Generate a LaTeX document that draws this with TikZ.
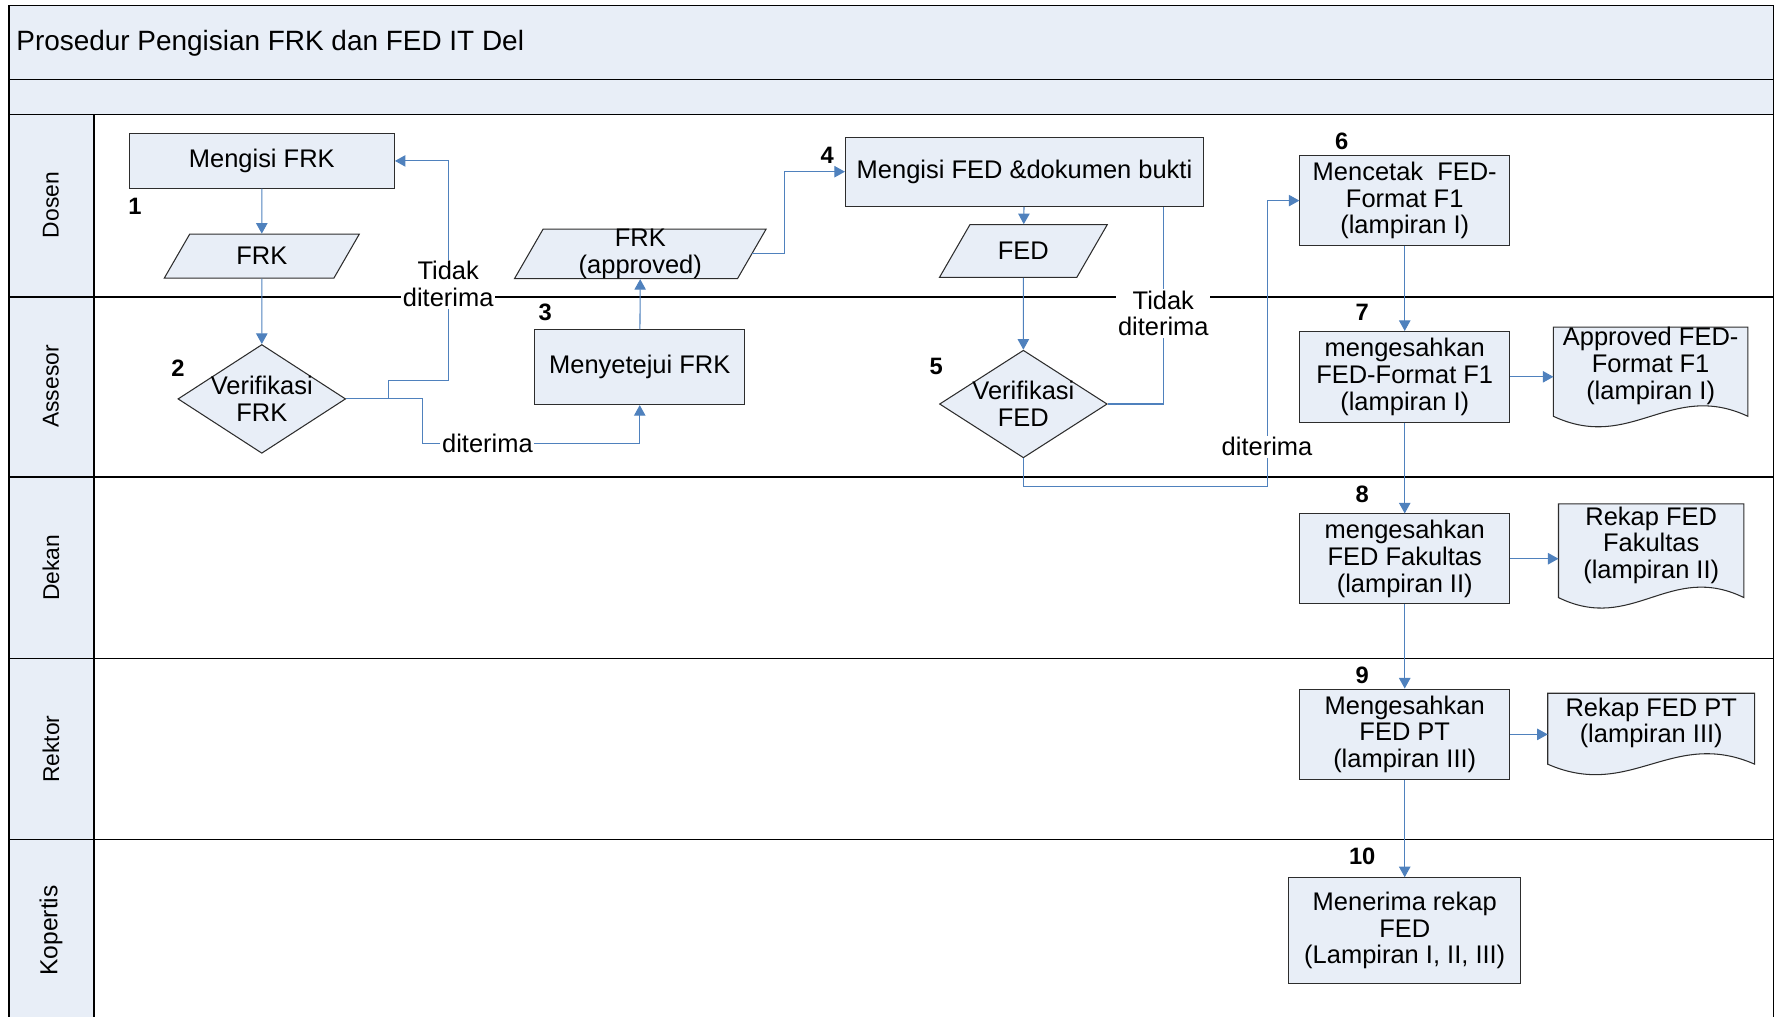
\documentclass[tikz,border=0pt]{standalone}
\usepackage{fontspec}
\setmainfont{Liberation Sans}
\usepackage{tikz}
\usetikzlibrary{shapes.geometric,arrows.meta,calc,backgrounds}

\definecolor{lanefill}{RGB}{232,238,247}
\definecolor{flowblue}{RGB}{79,129,189}
\definecolor{edgegray}{RGB}{45,45,45}
\newcommand{\pxl}{0.022667cm}
\newcommand{\boxfont}{\fontsize{14.5}{15.2}\selectfont}

\begin{document}
\begin{tikzpicture}[x=\pxl, y=-\pxl,
  lane/.style={draw=black, line width=0.8pt},
  band/.style={draw=black, line width=0.8pt, fill=lanefill},
  proc/.style={rectangle, draw=edgegray, line width=0.6pt, fill=lanefill, align=center, font=\boxfont, inner sep=1pt},
  data/.style={trapezium, trapezium left angle=60, trapezium right angle=120, trapezium stretches body, draw=edgegray, line width=0.6pt, fill=lanefill, align=center, font=\boxfont, inner xsep=0pt},
  decision/.style={diamond, draw=edgegray, line width=0.6pt, fill=lanefill, inner sep=0pt},
  dtext/.style={align=center, font=\boxfont, inner sep=0pt},
  docu/.style={rectangle, align=center, font=\boxfont, inner sep=0pt},
  docshape/.style={draw=edgegray, line width=0.6pt, fill=lanefill},
  dims/.style 2 args={minimum width=#1*\pxl, minimum height=#2*\pxl},
  num/.style={font=\fontsize{13.5}{14}\selectfont\bfseries},
  lanename/.style={rotate=90, font=\fontsize{13}{14}\selectfont},
  lbl/.style={fill=white, align=center, font=\boxfont, inner sep=1pt},
  flow/.style={draw=flowblue, line width=0.6pt, -{Triangle[length=6pt,width=6.5pt]}},
  plain/.style={draw=flowblue, line width=0.6pt}]
  \useasboundingbox (0,0) rectangle (1568,897);

  % pool and lanes
  \draw[band] (8,5) rectangle (1565,70);
  \node[anchor=west, font=\fontsize{15.9}{17}\selectfont] (title) at (9,38) {Prosedur Pengisian FRK dan FED IT Del};
  \draw[band] (8,70) rectangle (1565,101);
  \draw[band] (8,101) rectangle (83,900);
  \draw[lane] (1565,101) -- (1565,900);
  \foreach \ly in {262,421,581,741}
    \draw[lane] (8,\ly) -- (1565,\ly);
  \node[lanename] (dosen) at (45,181) {Dosen};
  \node[lanename] (assesor) at (45,341) {Assesor};
  \node[lanename] (dekan) at (45,501) {Dekan};
  \node[lanename] (rektor) at (45,661) {Rektor};
  \node[lanename, font=\fontsize{14}{15}\selectfont] (kopertis) at (45,821) {Kopertis};

  % steps
  \node[proc, dims={234}{48}] (m1) at (231,142) {Mengisi FRK};
  \node[data, minimum width=172*\pxl, inner ysep=7.5pt] (f1) at (231,226) {FRK};
  \node[decision, dims={148}{96}, label={[dtext]center:Verifikasi\\FRK}] (v2) at (231,352) {};
  \node[proc, dims={185}{66}] (s3) at (564.5,324) {Menyetejui FRK};
  \node[data, minimum width=222*\pxl, inner ysep=0pt] (fa) at (565,224) {FRK\\(approved)};
  \node[proc, dims={316}{61}] (e4) at (904,151.5) {Mengisi FED \&dokumen bukti};
  \node[data, minimum width=148*\pxl, inner ysep=10pt] (d5) at (903,221.5) {FED};
  \node[decision, dims={148}{95}, label={[dtext]center:Verifikasi\\FED}] (v5) at (903,356.5) {};
  \node[proc, dims={185}{80}] (m6) at (1239.5,177) {Mencetak~ FED-\\Format F1\\(lampiran I)};
  \node[proc, dims={185}{80}] (a7) at (1239.5,332.5) {mengesahkan\\FED-Format F1\\(lampiran I)};
  \node[docu, dims={171}{60}] (ap7) at (1456.5,323) {Approved FED-\\Format F1\\(lampiran I)};
  \node[proc, dims={185}{79}] (f8) at (1239.5,493) {mengesahkan\\FED Fakultas\\(lampiran II)};
  \node[docu, dims={163}{72}] (rk8) at (1457,481) {Rekap FED\\Fakultas\\(lampiran II)};
  \node[proc, dims={185}{80}] (p9) at (1239.5,648) {Mengesahkan\\FED PT\\(lampiran III)};
  \node[docu, dims={182}{52}] (rk9) at (1457,638) {Rekap FED PT\\(lampiran III)};
  \node[proc, dims={205}{93}] (k10) at (1239.5,821) {Menerima rekap\\FED\\(Lampiran I, II, III)};

  % document outlines
  \begin{scope}[on background layer]
    \foreach \dn in {ap7,rk8,rk9}
      \draw[docshape] (\dn.north west) -- (\dn.north east) -- ([yshift=-10*\pxl]\dn.south east)
        .. controls ($(\dn.south west)!0.6!(\dn.south east)+(0,-22)$) and ($(\dn.south west)!0.4!(\dn.south east)+(0,42)$) .. ([yshift=-10*\pxl]\dn.south west) -- cycle;
  \end{scope}

  % step numbers
  \node[num] (n1) at (119,182) {1};
  \node[num] (n2) at (157,325) {2};
  \node[num] (n3) at (481,276) {3};
  \node[num] (n4) at (730,137) {4};
  \node[num] (n5) at (826,323) {5};
  \node[num] (n6) at (1184,125) {6};
  \node[num] (n7) at (1202,276) {7};
  \node[num] (n8) at (1202,436) {8};
  \node[num] (n9) at (1202,596) {9};
  \node[num] (n10) at (1202,756) {10};

  % connectors
  \draw[flow] (m1) -- (f1);
  \draw[flow] (f1) -- (v2);
  \draw[flow] (v2.east) -- ++(37,0) |- ++(53,-16) |- node[lbl, pos=0.22] {Tidak\\diterima} (m1.east);
  \draw[flow] (v2.east) -- ++(67,0) -- ++(0,39) -| node[lbl, pos=0.15] {diterima} (s3.south);
  \draw[flow] (s3) -- (fa);
  \draw[flow] (fa.east) -- ++(28,0) |- (e4.west);
  \draw[flow] (e4) -- (d5);
  \draw[flow] (d5) -- (v5);
  \draw[plain] (v5.east) -| node[lbl, pos=0.73] {Tidak\\diterima} ([xshift=-36*\pxl]e4.south east);
  \draw[flow] (v5.south) -- ++(0,25) -- ++(215,0) |- node[lbl, pos=0.07] {diterima} (m6.west);
  \draw[flow] (m6) -- (a7);
  \draw[flow] (a7.east) -- (a7.east -| ap7.west);
  \draw[flow] (a7) -- (f8);
  \draw[flow] (f8.east) -- (f8.east -| rk8.west);
  \draw[flow] (f8) -- (p9);
  \draw[flow] (p9.east) -- (p9.east -| rk9.west);
  \draw[flow] (p9) -- (k10);
\end{tikzpicture}
\end{document}
